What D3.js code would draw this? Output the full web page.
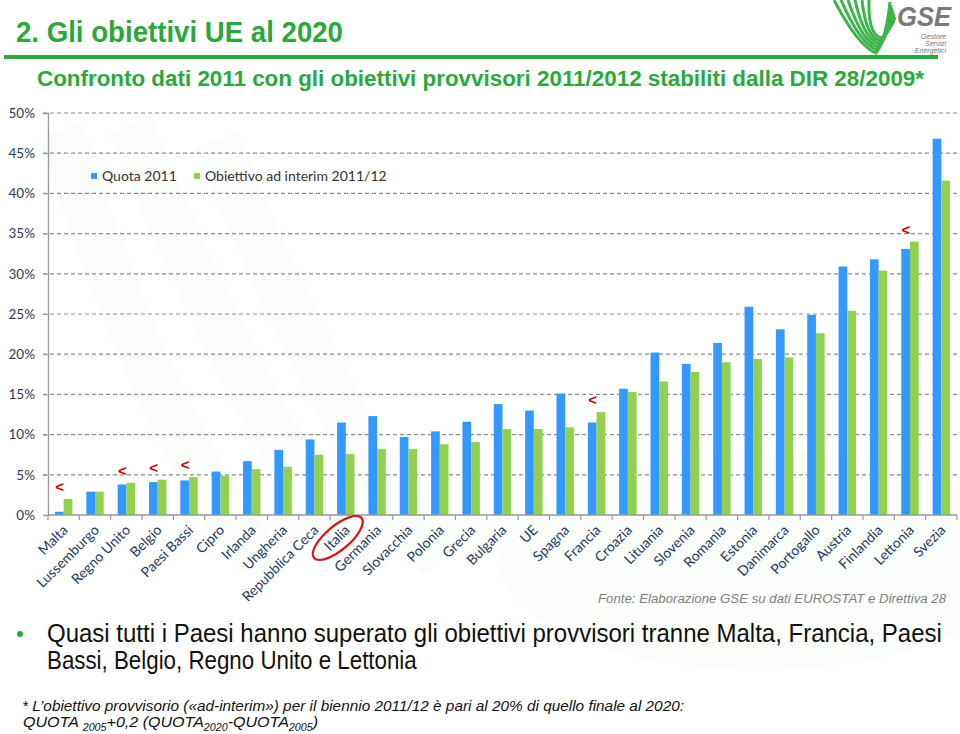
<!DOCTYPE html>
<html><head><meta charset="utf-8">
<script src="https://cdn.jsdelivr.net/npm/d3@7"></script>
<style>
html,body{margin:0;padding:0;background:#fff;}
svg{display:block;}
</style></head>
<body>
<svg id="c" width="960" height="734"></svg>
<script>
const categories = ["Malta","Lussemburgo","Regno Unito","Belgio","Paesi Bassi","Cipro","Irlanda","Ungheria","Repubblica Ceca","Italia","Germania","Slovacchia","Polonia","Grecia","Bulgaria","UE","Spagna","Francia","Croazia","Lituania","Slovenia","Romania","Estonia","Danimarca","Portogallo","Austria","Finlandia","Lettonia","Svezia"];
const quota2011 = [0.4,2.9,3.8,4.1,4.3,5.4,6.7,8.1,9.4,11.5,12.3,9.7,10.4,11.6,13.8,13.0,15.1,11.5,15.7,20.2,18.8,21.4,25.9,23.1,24.9,30.9,31.8,33.1,46.8];
const obiettivo = [2.0,2.9,4.0,4.4,4.7,4.9,5.7,6.0,7.5,7.6,8.2,8.2,8.8,9.1,10.7,10.7,10.9,12.8,15.3,16.6,17.8,19.0,19.4,19.6,22.6,25.4,30.4,34.0,41.6];
const seriesNames = ["Quota 2011","Obiettivo ad interim 2011/12"];
const seriesColors = ["#3399FF","#92D050"];
const yTicks = [0,5,10,15,20,25,30,35,40,45,50];
const belowTarget = ["Malta","Regno Unito","Belgio","Paesi Bassi","Francia","Lettonia"];
const highlighted = "Italia";

const svg = d3.select("#c");
const green = "#2BA83B";
const labelColor = "#22385E";

// helper: text squeezed horizontally to a target width via scale transform
function squeezed(xPos, yPos, width, attrs, str){
  const g = svg.append("g");
  const t = g.append("text").attr("x",0).attr("y",0).text(str);
  Object.entries(attrs).forEach(([k,v])=>t.attr(k,v));
  const len = t.node().getComputedTextLength();
  g.attr("transform",`translate(${xPos},${yPos}) scale(${width/len},1)`);
  return t;
}

// faint watermark
const wm = svg.append("g").attr("opacity",0.025).attr("fill","none").attr("stroke","#2BA83B");
[[60,130,200,560],[130,125,300,560],[215,140,380,560]].forEach(p=>{
  wm.append("path").attr("d",`M${p[0]},${p[1]} Q${p[2]-40},${p[3]-120} ${p[2]+60},${p[3]}`).attr("stroke-width",45);
});
svg.append("ellipse").attr("cx",760).attr("cy",560).attr("rx",260).attr("ry",110).attr("fill","#2BA83B").attr("opacity",0.025);

// Title
svg.append("text").attr("x",16).attr("y",42).attr("font-family","Liberation Sans, Arial, sans-serif")
  .attr("font-size",29).attr("font-weight","bold").attr("fill",green)
  .attr("textLength",327).attr("lengthAdjust","spacingAndGlyphs").text("2. Gli obiettivi UE al 2020");
svg.append("rect").attr("x",4).attr("y",55).attr("width",934).attr("height",4).attr("fill",green);

// Logo
const logo = svg.append("g").attr("fill","none").attr("stroke","#3DB54A").attr("stroke-width",3);
for(let i=0;i<6;i++){
  const sx = 834 + i*7;
  logo.append("path").attr("d",`M${sx},0 Q${858+i*2},${46-i*2} ${876+i*1.2},${53-i*3} Q${886+i*1.5},${40-i*3} ${890+i*1},${2+i*3}`);
}
svg.append("text").attr("x",897).attr("y",26).attr("font-family","Liberation Sans, Arial, sans-serif")
  .attr("font-size",27).attr("font-weight","bold").attr("font-style","italic").attr("fill","#7A7A7A")
  .attr("textLength",54).attr("lengthAdjust","spacingAndGlyphs").text("GSE");
[["Gestore",39],["Servizi",46],["Energetici",53]].forEach(t=>{
  svg.append("text").attr("x",946).attr("y",t[1]).attr("text-anchor","end").attr("font-family","Liberation Sans, Arial, sans-serif")
    .attr("font-size",7).attr("font-style","italic").attr("fill","#777").text(t[0]);
});

// Subtitle
svg.append("text").attr("x",37).attr("y",86).attr("font-family","Liberation Sans, Arial, sans-serif")
  .attr("font-size",22).attr("font-weight","bold").attr("fill",green)
  .attr("textLength",887).attr("lengthAdjust","spacingAndGlyphs")
  .text("Confronto dati 2011 con gli obiettivi provvisori 2011/2012 stabiliti dalla DIR 28/2009*");

// Scales
const x = d3.scaleBand().domain(categories).range([48,957]).paddingInner(0).paddingOuter(0);
const x1 = d3.scaleBand().domain(seriesNames).range([0,x.bandwidth()]).paddingInner(0).paddingOuter(0.8);
const y = d3.scaleLinear().domain([0,50]).range([515,113]);

// Grid
const grid = svg.append("g");
yTicks.filter(t=>t>0).forEach(t=>{
  grid.append("line").attr("x1",43).attr("x2",957).attr("y1",y(t)).attr("y2",y(t))
    .attr("stroke","#8C8C8C").attr("stroke-width",1.2).attr("stroke-dasharray","4,3");
});

// Y axis
const yAxis = d3.axisLeft(y).tickValues(yTicks).tickFormat(d=>d+"%").tickSize(5).tickPadding(8);
const ya = svg.append("g").attr("transform","translate(48,0)").call(yAxis);
ya.select(".domain").attr("stroke","#999").attr("stroke-width",1.3);
ya.selectAll(".tick line").attr("stroke","#999");
ya.selectAll(".tick text").attr("font-family","Lato, 'Open Sans', sans-serif").attr("font-size",13.5).attr("fill","#2E3B55");

// Bars
const gBars = svg.append("g");
const rows = categories.map((c,i)=>({c, vals:[quota2011[i], obiettivo[i]]}));
gBars.selectAll("g").data(rows).join("g").attr("transform",d=>`translate(${x(d.c)},0)`)
  .selectAll("rect").data(d=>d.vals.map((v,j)=>({v,s:seriesNames[j],j})))
  .join("rect").attr("x",d=>x1(d.s)).attr("width",x1.bandwidth())
  .attr("y",d=>y(d.v)).attr("height",d=>y(0)-y(d.v)).attr("fill",d=>seriesColors[d.j]);

// X axis
const xTicks = svg.append("g");
xTicks.append("line").attr("x1",48).attr("x2",957).attr("y1",y(0)).attr("y2",y(0)).attr("stroke","#999").attr("stroke-width",1.3);
categories.concat(["__end"]).forEach((c,i)=>{
  const xx = i<categories.length ? x(c) : x.range()[1];
  xTicks.append("line").attr("x1",xx).attr("x2",xx).attr("y1",y(0)).attr("y2",y(0)+5).attr("stroke","#999").attr("stroke-width",1.2);
});
const xl = svg.append("g");
categories.forEach(c=>{
  xl.append("text").attr("transform",`translate(${x(c)+x.bandwidth()/2+5},${531}) rotate(-45)`)
    .attr("text-anchor","end").attr("font-family","Lato, 'Open Sans', sans-serif").attr("font-size",14)
    .attr("fill",labelColor).text(c);
});

// Italia circle
const ic = x(highlighted)+x.bandwidth()/2;
svg.append("ellipse").attr("transform",`translate(${ic-8},${538}) rotate(-40)`)
  .attr("rx",31).attr("ry",12).attr("fill","none").attr("stroke","#D8141A").attr("stroke-width",2.2);

// Below-target markers
belowTarget.forEach(c=>{
  const i = categories.indexOf(c);
  const top = Math.max(quota2011[i], obiettivo[i]);
  svg.append("text").attr("x",x(c)+x.bandwidth()/2-4).attr("y",y(top)-12).attr("dy","0.35em")
    .attr("text-anchor","middle").attr("font-family","Liberation Sans, Arial, sans-serif").attr("font-size",15)
    .attr("font-weight","bold").attr("fill","#CC0000").text("<");
});

// Legend
const lg = svg.append("g");
[[91,102],[194,205]].forEach((p,j)=>{
  lg.append("rect").attr("x",p[0]).attr("y",173).attr("width",6).attr("height",6).attr("fill",seriesColors[j]);
  lg.append("text").attr("x",p[1]).attr("y",181).attr("font-family","Lato, 'Open Sans', sans-serif").attr("font-size",14)
    .attr("fill","#333").text(seriesNames[j]);
});

// Source
svg.append("text").attr("x",946).attr("y",603).attr("text-anchor","end").attr("font-family","Liberation Sans, Arial, sans-serif")
  .attr("font-size",12.5).attr("font-style","italic").attr("fill","#7F7F7F")
  .attr("textLength",348).attr("lengthAdjust","spacingAndGlyphs")
  .text("Fonte: Elaborazione GSE su dati EUROSTAT e Direttiva 28");

// Bullet text
svg.append("circle").attr("cx",20).attr("cy",634).attr("r",3).attr("fill",green);
const bulletAttrs = {"font-family":"Liberation Sans, Arial, sans-serif","font-size":25,"fill":"#111"};
squeezed(47,642,895,bulletAttrs,"Quasi tutti i Paesi hanno superato gli obiettivi provvisori tranne Malta, Francia, Paesi");
squeezed(47,669,370,bulletAttrs,"Bassi, Belgio, Regno Unito e Lettonia");

// Footnote
svg.append("text").attr("x",22).attr("y",711).attr("font-family","Liberation Sans, Arial, sans-serif")
  .attr("font-size",15).attr("font-style","italic").attr("fill","#111").attr("textLength",662).attr("lengthAdjust","spacingAndGlyphs")
  .text("* L\u2019obiettivo provvisorio (\u00ABad-interim\u00BB) per il biennio 2011/12 \u00E8 pari al 20% di quello finale al 2020:");
const fn = svg.append("text").attr("x",23).attr("y",727).attr("font-family","Liberation Sans, Arial, sans-serif")
  .attr("font-size",15).attr("font-style","italic").attr("fill","#111").attr("textLength",295).attr("lengthAdjust","spacingAndGlyphs");
fn.append("tspan").text("QUOTA ");
fn.append("tspan").attr("font-size",10).attr("dy",4).text("2005");
fn.append("tspan").attr("dy",-4).text("+0,2 (QUOTA");
fn.append("tspan").attr("font-size",10).attr("dy",4).text("2020");
fn.append("tspan").attr("dy",-4).text("-QUOTA");
fn.append("tspan").attr("font-size",10).attr("dy",4).text("2005");
fn.append("tspan").attr("dy",-4).text(")");
</script>
</body></html>
